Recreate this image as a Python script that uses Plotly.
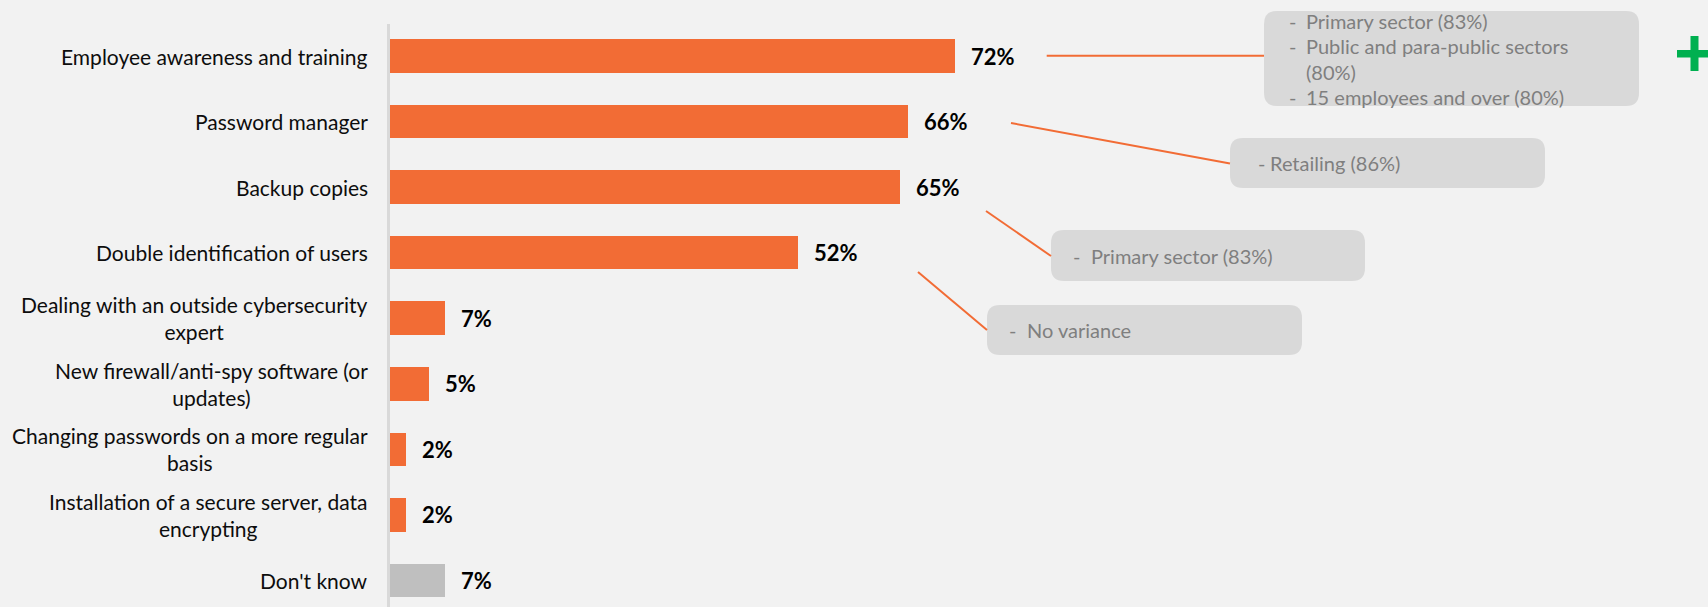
import plotly.graph_objects as go

# ---- data -------------------------------------------------------------
categories = [
    "Employee awareness and training",
    "Password manager",
    "Backup copies",
    "Double identification of users",
    "Dealing with an outside cybersecurity<br>expert",
    "New firewall/anti-spy software (or<br>updates)",
    "Changing passwords on a more regular<br>basis",
    "Installation of a secure server, data<br>encrypting",
    "Don't know",
]
values = [72, 66, 65, 52, 7, 5, 2, 2, 7]
is_dont_know = [False, False, False, False, False, False, False, False, True]

# callout texts (one list of lines per callout box)
callout_lines = [
    ["Primary sector (83%)", "Public and para-public sectors", "(80%)", "15 employees and over (80%)"],
    ["Retailing (86%)"],
    ["Primary sector (83%)"],
    ["No variance"],
]
# which line of a callout starts with a bullet dash
callout_bullets = [
    [True, True, False, True],
    [True],
    [True],
    [True],
]

# ---- styling / layout constants ----------------------------------------
W, H = 1708, 607
PLOT_L, PLOT_T = 390, 24
PLOT_W, PLOT_H = W - PLOT_L, H - PLOT_T
PX_PER_PCT = 7.85
CAT_STEP = 65.56
ORANGE = "#F26C35"
GREY_BAR = "#BFBFBF"
BG = "#F2F2F2"
BOX_FILL = "#D9D9D9"
BOX_TEXT = "#7F7F7F"
FONT = "Lato, 'Open Sans', sans-serif"


def px_x(px):
    return (px - PLOT_L) / PLOT_W


def px_y(py):
    return 1 - (py - PLOT_T) / PLOT_H


def rounded_box(x0, y0, x1, y1, r):
    pts = []
    pts.append(f"M {px_x(x0 + r)},{px_y(y0)}")
    pts.append(f"L {px_x(x1 - r)},{px_y(y0)}")
    pts.append(f"Q {px_x(x1)},{px_y(y0)} {px_x(x1)},{px_y(y0 + r)}")
    pts.append(f"L {px_x(x1)},{px_y(y1 - r)}")
    pts.append(f"Q {px_x(x1)},{px_y(y1)} {px_x(x1 - r)},{px_y(y1)}")
    pts.append(f"L {px_x(x0 + r)},{px_y(y1)}")
    pts.append(f"Q {px_x(x0)},{px_y(y1)} {px_x(x0)},{px_y(y1 - r)}")
    pts.append(f"L {px_x(x0)},{px_y(y0 + r)}")
    pts.append(f"Q {px_x(x0)},{px_y(y0)} {px_x(x0 + r)},{px_y(y0)}")
    pts.append("Z")
    return " ".join(pts)


ypos = list(range(len(categories)))
bar_colors = [GREY_BAR if dk else ORANGE for dk in is_dont_know]

fig = go.Figure(
    go.Bar(
        x=values,
        y=ypos,
        orientation="h",
        width=0.512,
        marker=dict(color=bar_colors, line=dict(width=0)),
        hoverinfo="skip",
    )
)

annotations = []
shapes = []

# category labels, right-aligned block with centred lines
for i, cat in enumerate(categories):
    annotations.append(dict(
        x=0, xref="paper", xanchor="right", xshift=-20,
        y=i, yref="y", yanchor="middle",
        text=cat, align="center", showarrow=False,
        font=dict(family=FONT, size=21, color="#0D0D0D"),
    ))

# value labels next to each bar
for i, v in enumerate(values):
    annotations.append(dict(
        x=v, xref="x", xanchor="left", xshift=14,
        y=i, yref="y", yanchor="middle",
        text=f"<b>{v}%</b>", showarrow=False,
        font=dict(family=FONT, size=22, color="#000000"),
    ))

# callout boxes: (x0, y0, x1, y1) in page pixels
box_rects = [
    (1264, 11, 1639, 106),
    (1230, 138, 1545, 188),
    (1051, 230, 1365, 281),
    (987, 305, 1302, 355),
]
# first text line centre y, dash x, text x
box_text_pos = [
    (21.0, 1287, 1304),
    (162.5, 1256, 1268),
    (255.5, 1071, 1089),
    (330.0, 1007, 1025),
]
LINE_GAP = 25.3
for rect, (ty, dx, tx), lines, bullets in zip(box_rects, box_text_pos, callout_lines, callout_bullets):
    shapes.append(dict(type="path", xref="paper", yref="paper",
                       path=rounded_box(*rect, 13), fillcolor=BOX_FILL,
                       line=dict(width=0), layer="above"))
    for k, (line, bul) in enumerate(zip(lines, bullets)):
        yy = ty + k * LINE_GAP
        if bul:
            annotations.append(dict(
                x=px_x(dx), xref="paper", xanchor="left",
                y=px_y(yy), yref="paper", yanchor="middle",
                text="-", showarrow=False,
                font=dict(family=FONT, size=20, color=BOX_TEXT),
            ))
        annotations.append(dict(
            x=px_x(tx), xref="paper", xanchor="left",
            y=px_y(yy), yref="paper", yanchor="middle",
            text=line, showarrow=False,
            font=dict(family=FONT, size=20, color=BOX_TEXT),
        ))

# connector lines from value labels to callouts
connectors = [
    ((1046.7, 55.7), (1264, 55.7)),
    ((1011, 123), (1230, 163.4)),
    ((986, 211), (1051, 256)),
    ((918, 272), (987, 330)),
]
for (x0, y0), (x1, y1) in connectors:
    shapes.append(dict(type="line", xref="paper", yref="paper",
                       x0=px_x(x0), y0=px_y(y0), x1=px_x(x1), y1=px_y(y1),
                       line=dict(color=ORANGE, width=2)))

# green plus marker
GREEN = "#00B050"
shapes.append(dict(type="rect", xref="paper", yref="paper",
                   x0=px_x(1690.5), x1=px_x(1698.5), y0=px_y(36), y1=px_y(71),
                   fillcolor=GREEN, line=dict(width=0)))
shapes.append(dict(type="rect", xref="paper", yref="paper",
                   x0=px_x(1677), x1=px_x(1712), y0=px_y(50), y1=px_y(57.5),
                   fillcolor=GREEN, line=dict(width=0)))

y_top = -(56 - PLOT_T) / CAT_STEP
y_bottom = y_top + PLOT_H / CAT_STEP

fig.update_layout(
    width=W, height=H,
    margin=dict(l=PLOT_L, r=0, t=PLOT_T, b=0, pad=0),
    paper_bgcolor=BG, plot_bgcolor=BG,
    showlegend=False,
    bargap=0,
    xaxis=dict(range=[0, PLOT_W / PX_PER_PCT], visible=False, fixedrange=True),
    yaxis=dict(range=[y_bottom, y_top], showticklabels=False, showgrid=False,
               zeroline=False, ticks="", showline=True, linecolor="#D9D9D9",
               linewidth=3, fixedrange=True),
    annotations=annotations,
    shapes=shapes,
)

fig.write_html("out.html", config={"displayModeBar": False})
